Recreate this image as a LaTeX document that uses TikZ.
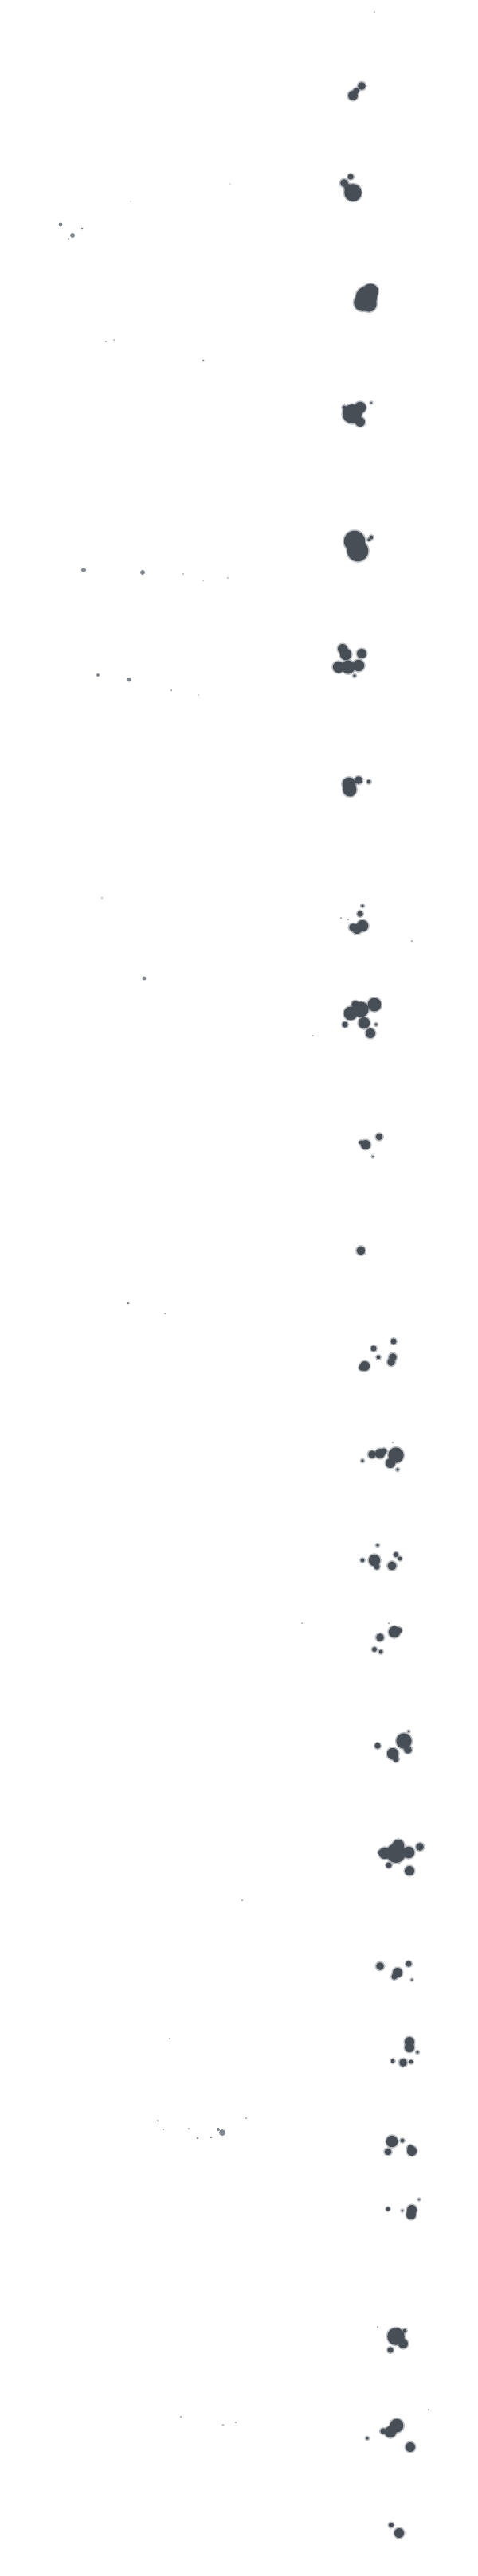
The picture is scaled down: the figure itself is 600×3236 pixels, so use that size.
\documentclass[tikz,border=0pt]{standalone}
\definecolor{inkdark}{RGB}{72,78,86}
\definecolor{inkhalo}{RGB}{120,126,134}
\definecolor{inklight}{RGB}{130,136,144}
\tikzset{
  blob/.style={fill=inkdark},
  halo/.style={fill=inkhalo, fill opacity=0.5},
  speck/.style={fill=inklight}
}
\begin{document}
\begin{tikzpicture}[x=0.1mm,y=-0.1mm]
\fill[white] (0,0) rectangle (600,3236);
\useasboundingbox (0,0) rectangle (600,3236);
% main column of dark blobs
\def\bloblist{454/108/4, 443/120/5, 447/114/3,
440/222/3, 432/230/4, 443/242/9, 437/236/4,
460/373/11, 455/380/9, 465/366/8, 463/382/8,
442/520/10, 452/512/6, 452/530/5, 432/512/2, 466/506/1,
445/680/11, 449/692/11, 442/676/6, 466/675/2, 463/678/1.5,
430/815/5, 434/822/6, 454/821/5, 425/838/6, 437/838/7, 450/836/6, 445/849/1.5,
438/985/7, 439/992/7, 450/980/4, 463/982/2, 442/998/1,
452/1148/3, 455/1138/1.5, 448/1167/5, 455/1163/6, 443/1165/4,
440/1273/7, 453/1268/8, 470/1262/7, 457/1285/6, 465/1298/5, 433/1287/3, 472/1287/1.5, 446/1262/4,
459/1438/5, 476/1428/3.5, 453/1435/2, 468/1453/1,
453/1571/4.5,
494/1685/3, 469/1694/3, 475/1705/2, 493/1705/4, 491/1711/4, 458/1716/5, 454/1718/3,
467/1827/4, 477/1826/5, 482/1823/3, 497/1828/8, 490/1838/5, 499/1846/1.5, 455/1835/1.5,
470/1960/6, 473/1968/3, 455/1960/2, 474/1941/1.5, 492/1967/4.5, 497/1953/2.5, 502/1958/2,
495/2050/6, 501/2048/3, 477/2057/4, 470/2072/2.5, 478/2075/2,
507/2187/8, 512/2198/4, 493/2203/6, 497/2210/3, 474/2193/3, 513/2175/1,
497/2328/10, 483/2328/6, 513/2327/6, 527/2320/4, 488/2343/3, 514/2350/5, 477/2327/2, 500/2318/6,
477/2470/4, 499/2478/5, 495/2483/3, 513/2467/3, 517/2487/1,
514/2565/5, 514/2572/5, 506/2591/4, 493/2589/2, 516/2590/2, 524/2578/1.5,
492/2690/6, 487/2703/3.5, 505/2689/2, 517/2702/5, 515/2698/3,
517/2776/5, 516/2782/5, 487/2775/2, 505/2777/1, 526/2763/1,
497/2935/9, 506/2944/5, 490/2952/3, 508/2928/2,
498/3047/7, 490/3055/6, 481/3054/3, 515/3074/5, 461/3063/1.5,
501/3182/5, 491/3172/2.5}
\foreach \x/\y/\r in \bloblist { \fill[halo] (\x,\y) circle[radius=1.2*\r+1.6]; }
\foreach \x/\y/\r in \bloblist { \fill[blob] (\x,\y) circle[radius=1.2*\r]; }
% faint specks
\foreach \x/\y/\r in {470/15/0.8, 517/1182/1, 428/1153/1, 437/1155/1, 488/2039/1, 493/1812/1,
474/2923/1, 538/3027/1,
76/282/2.5, 91/296/3, 103/287/1.5, 86/300/1, 255/453/1.5, 133/429/1, 143/427/0.8, 164/253/0.7, 289/231/0.7,
105/716/3, 179/719/3, 230/721/0.8, 255/729/0.8, 286/726/0.8,
123/848/2, 162/854/2.5, 215/867/1, 249/873/0.8, 181/1229/2.5, 128/1128/0.8,
161/1637/1.5, 207/1650/1, 393/1301/1, 379/2039/0.8,
304/2387/1, 213/2561/1, 279/2679/4, 274/2675/2, 265/2685/1.3, 248/2686/1.3, 237/2674/1, 198/2664/1, 205/2675/1, 309/2661/1,
227/3036/1, 280/3046/1, 296/3043/1}
{ \fill[speck] (\x,\y) circle[radius=\r]; }
\end{tikzpicture}
\end{document}
